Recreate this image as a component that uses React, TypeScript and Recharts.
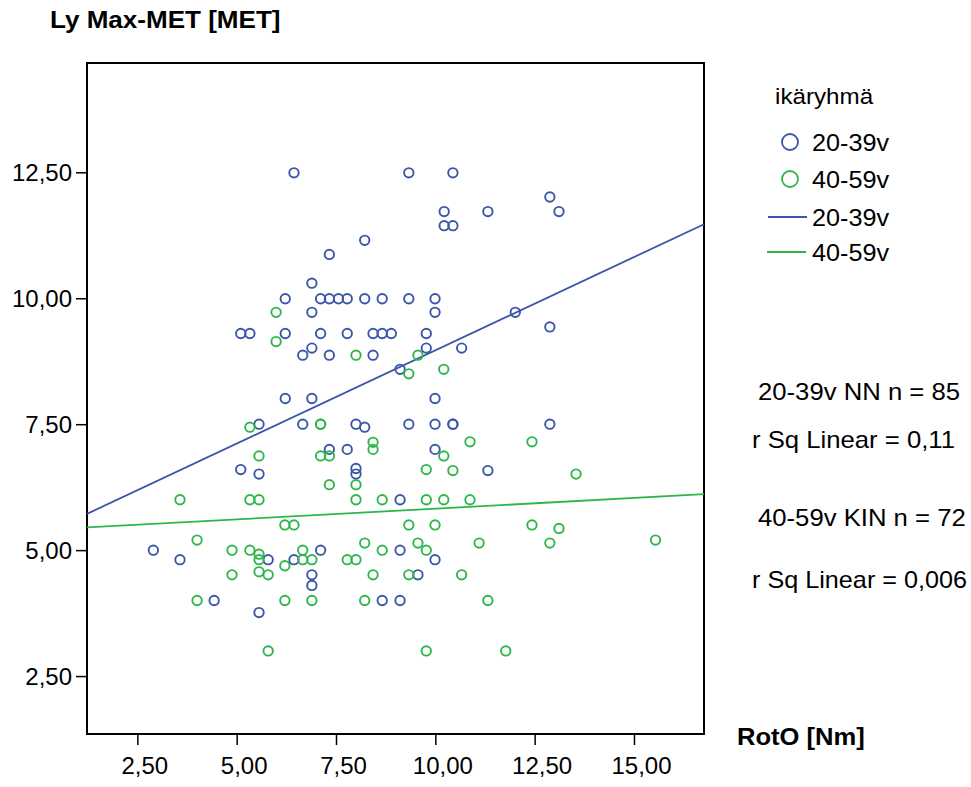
import { ScatterChart, Scatter, XAxis, YAxis, ReferenceArea } from 'recharts'

const X_TICKS = [2.5, 5, 7.5, 10, 12.5, 15]
const Y_TICKS = [2.5, 5, 7.5, 10, 12.5]
const X_DOMAIN = [1.22, 16.75]
const Y_DOMAIN = [1.36, 14.68]

// 20-39v (blue)
const youngX = [
  6.43, 9.32, 10.43, 12.87, 10.21, 11.31, 13.1, 10.21, 10.43, 8.21, 7.32, 6.88,
  6.21, 7.1, 7.32, 7.55, 7.77, 8.21, 8.65, 9.32, 9.98,
  6.88, 9.98, 12.0, 12.87,
  5.09, 5.32, 6.21, 7.1, 7.77, 8.42, 8.65, 8.88, 9.76,
  6.88, 9.76, 10.65, 6.65, 7.32, 8.42, 9.1,
  6.21, 6.88, 9.98,
  5.55, 6.65, 7.99, 9.32, 9.98, 10.43, 10.43, 12.87, 8.21,
  7.32, 7.77, 9.98,
  5.09, 5.55, 7.99, 7.99, 11.31, 9.1,
  2.89, 7.1, 9.1, 3.56, 5.78, 6.43, 9.98,
  6.88, 9.55, 6.88, 4.42, 8.65, 9.1, 5.55,
]
const youngY = [
  12.5, 12.5, 12.5, 12.02, 11.73, 11.73, 11.73, 11.45, 11.45, 11.16, 10.88, 10.31,
  10.0, 10.0, 10.0, 10.0, 10.0, 10.0, 10.0, 10.0, 10.0,
  9.73, 9.73, 9.73, 9.44,
  9.31, 9.31, 9.31, 9.31, 9.31, 9.31, 9.31, 9.31, 9.31,
  9.02, 9.02, 9.02, 8.88, 8.88, 8.88, 8.6,
  8.02, 8.02, 8.02,
  7.51, 7.51, 7.51, 7.51, 7.51, 7.51, 7.51, 7.51, 7.45,
  7.01, 7.01, 7.01,
  6.61, 6.52, 6.63, 6.52, 6.59, 6.01,
  5.01, 5.01, 5.01, 4.82, 4.82, 4.82, 4.82,
  4.52, 4.52, 4.31, 4.01, 4.01, 4.01, 3.77,
]

// 40-59v (green)
const olderX = [
  5.98, 5.98, 7.99, 9.55, 10.2, 9.32,
  5.32, 7.1, 7.1, 8.42, 10.86, 12.42, 8.42,
  5.55, 7.1, 7.32, 10.2, 9.76, 10.43, 13.53, 7.32, 7.99,
  3.56, 5.32, 5.55, 7.99, 8.65, 9.76, 10.2, 10.86,
  6.2, 6.43, 9.32, 9.98, 12.42, 13.1,
  3.99, 15.53, 8.21, 9.55, 11.09, 12.87,
  4.87, 5.32, 6.65, 8.65, 9.76, 5.55,
  5.55, 6.65, 6.88, 7.77, 7.99, 6.2, 5.55,
  4.87, 5.78, 8.42, 9.32, 10.65,
  3.99, 6.2, 6.88, 8.21, 11.31,
  5.78, 9.76, 11.76,
]
const olderY = [
  9.73, 9.15, 8.88, 8.88, 8.6, 8.51,
  7.45, 7.51, 7.51, 7.15, 7.16, 7.16, 7.01,
  6.88, 6.88, 6.88, 6.88, 6.61, 6.59, 6.52, 6.31, 6.31,
  6.01, 6.01, 6.01, 6.01, 6.01, 6.01, 6.01, 6.01,
  5.51, 5.51, 5.51, 5.51, 5.51, 5.44,
  5.21, 5.21, 5.15, 5.15, 5.15, 5.15,
  5.01, 5.01, 5.01, 5.01, 5.01, 4.93,
  4.82, 4.82, 4.82, 4.82, 4.82, 4.7, 4.58,
  4.52, 4.52, 4.52, 4.52, 4.52,
  4.01, 4.01, 4.01, 4.01, 4.01,
  3.01, 3.01, 3.01,
]

// fit line end points, read at the plot edges
const fitX = [1.22, 16.75]
const youngFitY = [5.73, 11.48]
const olderFitY = [5.46, 6.12]

const BLUE = '#3a55a9'
const GREEN = '#2fb64b'
const FONT = '"Liberation Sans", Arial, sans-serif'

const toPoints = (xs: number[], ys: number[]) => xs.map((x, i) => ({ x, y: ys[i] }))

const youngData = toPoints(youngX, youngY)
const olderData = toPoints(olderX, olderY)
const youngFit = toPoints(fitX, youngFitY)
const olderFit = toPoints(fitX, olderFitY)

const fmt = (v: number) => v.toFixed(2).replace('.', ',')

const ring = (color: string) => (props: any) => (
  <circle cx={props.cx} cy={props.cy} r={4.7} fill="none" stroke={color} strokeWidth={1.9} />
)

const noShape = () => <g />

// the source text is a little wider than Liberation Sans, so stretch it sideways
const textStyle = (sx: number) => ({
  position: 'absolute' as const,
  fontFamily: FONT,
  fontSize: 24,
  lineHeight: '24px',
  color: '#000',
  whiteSpace: 'nowrap' as const,
  transform: `scaleX(${sx})`,
  transformOrigin: 'left center',
})

export default function App() {
  return (
    <div style={{ position: 'absolute', left: 0, top: 0, width: 971, height: 787, background: '#fff' }}>
      <ScatterChart width={971} height={787} margin={{ top: 63, right: 267, bottom: 0, left: 0 }}>
        <XAxis
          type="number"
          dataKey="x"
          domain={X_DOMAIN}
          ticks={X_TICKS}
          tickFormatter={fmt}
          height={53}
          axisLine={false}
          tickSize={11}
          tickMargin={12}
          tickLine={{ stroke: '#000', strokeWidth: 1.5 }}
          tick={{ fill: '#000', fontSize: 24, fontFamily: FONT, dx: 7 }}
        />
        <YAxis
          type="number"
          dataKey="y"
          domain={Y_DOMAIN}
          ticks={Y_TICKS}
          tickFormatter={fmt}
          width={87}
          axisLine={false}
          tickSize={11}
          tickMargin={4}
          tickLine={{ stroke: '#000', strokeWidth: 1.5 }}
          tick={{ fill: '#000', fontSize: 24, fontFamily: FONT }}
        />
        <ReferenceArea
          x1={X_DOMAIN[0]}
          x2={X_DOMAIN[1]}
          y1={Y_DOMAIN[0]}
          y2={Y_DOMAIN[1]}
          fill="none"
          stroke="#000"
          strokeWidth={2}
          ifOverflow="visible"
        />
        <Scatter data={youngFit} line={{ stroke: BLUE, strokeWidth: 1.8 }} shape={noShape} isAnimationActive={false} />
        <Scatter data={olderFit} line={{ stroke: GREEN, strokeWidth: 1.8 }} shape={noShape} isAnimationActive={false} />
        <Scatter data={youngData} shape={ring(BLUE)} isAnimationActive={false} />
        <Scatter data={olderData} shape={ring(GREEN)} isAnimationActive={false} />
      </ScatterChart>

      <div style={{ ...textStyle(1.085), left: 50, top: 8, fontWeight: 'bold' }}>Ly Max-MET [MET]</div>
      <div style={{ ...textStyle(1.065), left: 737, top: 725, fontWeight: 'bold' }}>RotO [Nm]</div>

      <div style={{ ...textStyle(1.1), left: 775, top: 85, fontSize: 22 }}>ikäryhmä</div>
      <svg style={{ position: 'absolute', left: 760, top: 120 }} width={60} height={150}>
        <circle cx={30} cy={22} r={8} fill="none" stroke={BLUE} strokeWidth={1.8} />
        <circle cx={30} cy={59} r={8} fill="none" stroke={GREEN} strokeWidth={1.8} />
        <line x1={8} x2={47} y1={97} y2={97} stroke={BLUE} strokeWidth={1.8} />
        <line x1={7} x2={46} y1={132} y2={132} stroke={GREEN} strokeWidth={1.8} />
      </svg>
      <div style={{ ...textStyle(1.05), left: 812, top: 131 }}>20-39v</div>
      <div style={{ ...textStyle(1.05), left: 812, top: 168 }}>40-59v</div>
      <div style={{ ...textStyle(1.05), left: 812, top: 206 }}>20-39v</div>
      <div style={{ ...textStyle(1.05), left: 812, top: 241 }}>40-59v</div>

      <div style={{ ...textStyle(1.07), left: 758, top: 380 }}>20-39v NN n = 85</div>
      <div style={{ ...textStyle(1.07), left: 752, top: 428 }}>r Sq Linear = 0,11</div>
      <div style={{ ...textStyle(1.07), left: 758, top: 506 }}>40-59v KIN n = 72</div>
      <div style={{ ...textStyle(1.05), left: 752, top: 568 }}>r Sq Linear = 0,006</div>
    </div>
  )
}
